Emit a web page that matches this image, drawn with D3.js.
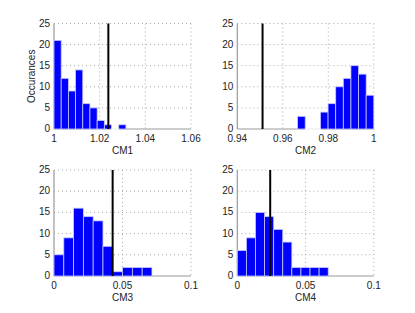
<!DOCTYPE html>
<html>
<head>
<meta charset="utf-8">
<script src="https://cdn.jsdelivr.net/npm/d3@7"></script>
<style>
  body { margin: 0; background: #fff; }
  text { font-family: "Liberation Sans", Arial, sans-serif; font-size: 10px; fill: #222; }
</style>
</head>
<body>
<div id="chart"></div>
<script>
// histogram counts per panel (10 bins each)
let panelNames = ['CM1', 'CM2', 'CM3', 'CM4'];
let cm1Counts = [21, 12, 9, 14, 6, 5, 2, 1, 0, 1];
let cm2Counts = [3, 0, 0, 4, 6, 10, 12, 15, 13, 8];
let cm3Counts = [5, 9, 16, 14, 13, 7, 1, 2, 2, 2];
let cm4Counts = [6, 9, 15, 14, 11, 8, 2, 2, 2, 2];
// bin ranges (first edge, last edge)
let binRanges = [[1.0, 1.0315], [0.9665, 1.0], [0, 0.0715], [0, 0.0666]];
// x domains and ticks
let xDomains = [[1, 1.06], [0.94, 1], [0, 0.1], [0, 0.1]];
let xTicks = [[1, 1.02, 1.04, 1.06], [0.94, 0.96, 0.98, 1], [0, 0.05, 0.1], [0, 0.05, 0.1]];
let yTicks = [0, 5, 10, 15, 20, 25];
// reference (black) line per panel
let refLines = [1.0238, 0.9511, 0.0428, 0.0241];

let svgWidth = 415;
let svgHeight = 313;

let svg = d3.select('#chart').append('svg')
  .attr('width', svgWidth)
  .attr('height', svgHeight);

// panel boxes [left, top, width, height]
let boxes = [
  [54, 23.5, 137, 105.5],
  [237.3, 23.5, 136.5, 105.5],
  [54, 170, 137, 106],
  [237.3, 170, 136.5, 106]
];

let allCounts = [cm1Counts, cm2Counts, cm3Counts, cm4Counts];

boxes.forEach(function(b, i) {
  let w = b[2], h = b[3];
  let g = svg.append('g').attr('transform', `translate(${b[0]}, ${b[1]})`);

  let x = d3.scaleLinear().domain(xDomains[i]).range([0, w]);
  let y = d3.scaleLinear().domain([0, 25]).range([h, 0]);

  // dotted grid
  g.selectAll('.gx').data(xTicks[i].slice(1)).enter().append('line')
    .attr('x1', d => x(d)).attr('x2', d => x(d))
    .attr('y1', 0).attr('y2', h)
    .attr('stroke', '#aaa').attr('stroke-width', 1)
    .attr('stroke-dasharray', '1,3');
  g.selectAll('.gy').data(yTicks.slice(1)).enter().append('line')
    .attr('x1', 0).attr('x2', w)
    .attr('y1', d => y(d)).attr('y2', d => y(d))
    .attr('stroke', '#aaa').attr('stroke-width', 1)
    .attr('stroke-dasharray', '1,3');

  // axis lines
  g.append('line').attr('x1', 0).attr('x2', 0).attr('y1', 0).attr('y2', h)
    .attr('stroke', '#999').attr('stroke-width', 1.2);
  g.append('line').attr('x1', 0).attr('x2', w).attr('y1', h).attr('y2', h)
    .attr('stroke', '#999').attr('stroke-width', 1.2);

  // bins
  let r = binRanges[i];
  let step = (r[1] - r[0]) / allCounts[i].length;
  let bins = allCounts[i].map((c, k) => ({ x0: r[0] + k * step, x1: r[0] + (k + 1) * step, n: c }));

  g.selectAll('.bar').data(bins.filter(d => d.n > 0)).enter().append('rect')
    .attr('x', d => x(d.x0))
    .attr('y', d => y(d.n))
    .attr('width', d => x(d.x1) - x(d.x0))
    .attr('height', d => y(0) - y(d.n))
    .attr('fill', '#0000ff')
    .attr('stroke', '#c8c8ff')
    .attr('stroke-width', 0.8);
  // empty bins show only their edge on the baseline
  g.selectAll('.empty').data(bins.filter(d => d.n === 0)).enter().append('line')
    .attr('x1', d => x(d.x0)).attr('x2', d => x(d.x1))
    .attr('y1', h).attr('y2', h)
    .attr('stroke', '#fff').attr('stroke-width', 1.6);

  // reference line
  g.append('line')
    .attr('x1', x(refLines[i])).attr('x2', x(refLines[i]))
    .attr('y1', 0).attr('y2', h)
    .attr('stroke', '#000').attr('stroke-width', 2);

  // y tick labels
  g.selectAll('.yl').data(yTicks).enter().append('text')
    .attr('x', -4).attr('y', d => y(d)).attr('dy', '0.3em')
    .attr('text-anchor', 'end')
    .text(d => d);

  // x tick labels
  g.selectAll('.xl').data(xTicks[i]).enter().append('text')
    .attr('x', d => x(d)).attr('y', h + 12.5)
    .attr('text-anchor', 'middle')
    .text(d => d3.format('~g')(d));

  // x axis title
  g.append('text')
    .attr('x', w / 2).attr('y', h + 25)
    .attr('text-anchor', 'middle')
    .text(panelNames[i]);

  if (i === 0) {
    g.append('text')
      .attr('transform', `translate(-19, ${h / 2}) rotate(-90)`)
      .attr('text-anchor', 'middle')
      .text('Occurances');
  }
});
</script>
</body>
</html>
